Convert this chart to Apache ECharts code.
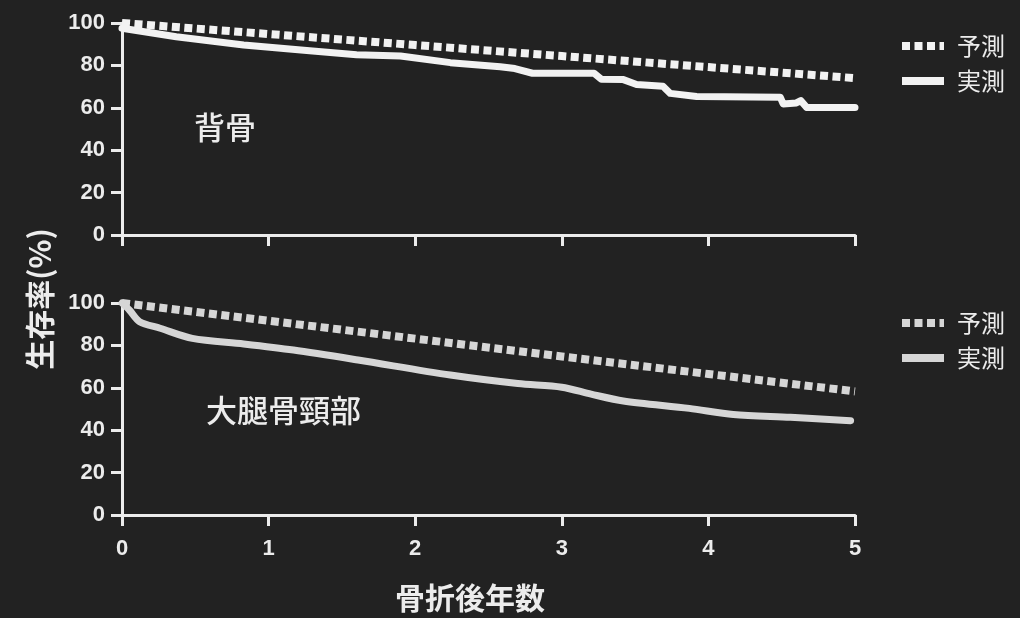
<!DOCTYPE html>
<html>
<head>
<meta charset="utf-8">
<script src="https://cdn.jsdelivr.net/npm/echarts@6/dist/echarts.min.js"></script>
<style>
  html, body { margin: 0; padding: 0; background: #222222; }
  #chart { width: 1020px; height: 618px; }
</style>
</head>
<body>
<div id="chart"></div>
<script>
// Years after fracture on the x axis
const yearTicks = [0, 1, 2, 3, 4, 5];
const survivalTicks = [0, 20, 40, 60, 80, 100];

// Spine (背骨): expected vs observed survival, [year, %]
const spineExpected = [[0, 100], [1, 94.8], [2, 89.6], [3, 84.4], [4, 79.2], [5, 74]];
const spineObserved = [
  [0, 97.5], [0.37, 93.5], [0.83, 89.6], [1.28, 86.9], [1.6, 85.0], [1.9, 84.4],
  [2.24, 81.3], [2.58, 79.4], [2.68, 78.5], [2.8, 76.3], [3.22, 76.3], [3.27, 73.5],
  [3.42, 73.3], [3.51, 71.0], [3.69, 70.2], [3.74, 66.8], [3.92, 65.3], [4.49, 65.0],
  [4.51, 61.8], [4.6, 62.3], [4.63, 63.4], [4.67, 60.2], [5.0, 60.2]
];

// Hip / femoral neck (大腿骨頸部): expected vs observed survival, [year, %]
const hipExpected = [[0, 100], [1, 91.6], [2, 83.2], [3, 74.8], [4, 66.5], [5, 58.3]];
const hipObserved = [
  [0, 100], [0.05, 96.7], [0.12, 91.2], [0.26, 88.1], [0.48, 83.3], [0.83, 80.7],
  [1.17, 77.8], [1.61, 73.1], [2.24, 66.0], [2.7, 62.0], [3.0, 60.3], [3.2, 57.0],
  [3.42, 53.8], [3.87, 50.3], [4.17, 47.4], [4.56, 46.1], [4.97, 44.5]
];

const seriesNames = ['予測', '実測'];
const panelLabels = ['背骨', '大腿骨頸部'];
const yTitle = '生存率(%)';
const xTitle = '骨折後年数';

const TEXT = '#ececec';
const TOP_LINE = '#f2f2f2';
const BOTTOM_LINE = '#d6d6d6';
const NUM_FONT = '"Liberation Sans", Arial, sans-serif';
const CJK_FONT = '"Noto Sans CJK JP", "Noto Sans", sans-serif';
const DOTS = [8, 4.5];

function xAxisCfg(gridIndex, showLabels) {
  return {
    type: 'value', gridIndex, min: yearTicks[0], max: yearTicks[yearTicks.length - 1], interval: 1,
    axisLine: { show: true, onZero: false, lineStyle: { color: TEXT, width: 3 } },
    axisTick: { show: true, length: 11, lineStyle: { color: TEXT, width: 3 } },
    axisLabel: { show: showLabels, color: TEXT, fontSize: 22, fontWeight: 'bold', fontFamily: NUM_FONT, margin: 23 },
    splitLine: { show: false }
  };
}
function yAxisCfg(gridIndex) {
  return {
    type: 'value', gridIndex, min: survivalTicks[0], max: survivalTicks[survivalTicks.length - 1], interval: 20,
    axisLine: { show: true, onZero: false, lineStyle: { color: TEXT, width: 3 } },
    axisTick: { show: true, length: 11, lineStyle: { color: TEXT, width: 3 } },
    axisLabel: { color: TEXT, fontSize: 22, fontWeight: 'bold', fontFamily: NUM_FONT, margin: 17 },
    splitLine: { show: false }
  };
}
function legendCfg(top, color) {
  return {
    orient: 'vertical', left: 898, top, padding: 0,
    itemWidth: 42, itemHeight: 14, itemGap: 11,
    lineStyle: { width: 8 },
    itemStyle: { opacity: 0 },
    textStyle: { color: TEXT, fontSize: 24, fontFamily: CJK_FONT, padding: [0, 0, 0, 8] },
    data: [
      { name: seriesNames[0], itemStyle: { opacity: 0 }, lineStyle: { color, type: DOTS, width: 8, cap: 'butt' } },
      { name: seriesNames[1], itemStyle: { opacity: 0 }, lineStyle: { color, type: 'solid', width: 8, cap: 'butt' } }
    ]
  };
}
function lineSeries(name, data, idx, color, dashed, smooth) {
  return {
    name, type: 'line', data, xAxisIndex: idx, yAxisIndex: idx,
    symbol: 'none', showSymbol: false, clip: false, smooth, silent: true,
    lineStyle: { color, width: dashed ? 8 : 7, type: dashed ? DOTS : 'solid', cap: dashed ? 'butt' : 'round', join: 'round' },
    itemStyle: { color }
  };
}

const chart = echarts.init(document.getElementById('chart'), null, { renderer: 'canvas' });
chart.setOption({
  backgroundColor: '#222222',
  animation: false,
  grid: [
    { left: 122, top: 23, width: 733, height: 212 },
    { left: 122, top: 303, width: 733, height: 212 }
  ],
  xAxis: [xAxisCfg(0, false), xAxisCfg(1, true)],
  yAxis: [yAxisCfg(0), yAxisCfg(1)],
  legend: [legendCfg(34, TOP_LINE), legendCfg(311, BOTTOM_LINE)],
  series: [
    lineSeries(seriesNames[0], spineExpected, 0, TOP_LINE, true, false),
    lineSeries(seriesNames[1], spineObserved, 0, TOP_LINE, false, false),
    lineSeries(seriesNames[0], hipExpected, 1, BOTTOM_LINE, true, false),
    lineSeries(seriesNames[1], hipObserved, 1, BOTTOM_LINE, false, 0.3)
  ],
  graphic: [
    { type: 'text', left: 194, top: 112, style: { text: panelLabels[0], fill: TEXT, font: '500 31px ' + CJK_FONT } },
    { type: 'text', left: 206, top: 395, style: { text: panelLabels[1], fill: TEXT, font: '500 31px ' + CJK_FONT } },
    { type: 'text', x: 40, y: 299, rotation: Math.PI / 2,
      style: { text: yTitle, fill: TEXT, font: 'bold 30px ' + CJK_FONT, align: 'center', verticalAlign: 'middle' } },
    { type: 'text', x: 470, y: 598,
      style: { text: xTitle, fill: TEXT, font: 'bold 30px ' + CJK_FONT, align: 'center', verticalAlign: 'middle' } }
  ]
});
</script>
</body>
</html>
